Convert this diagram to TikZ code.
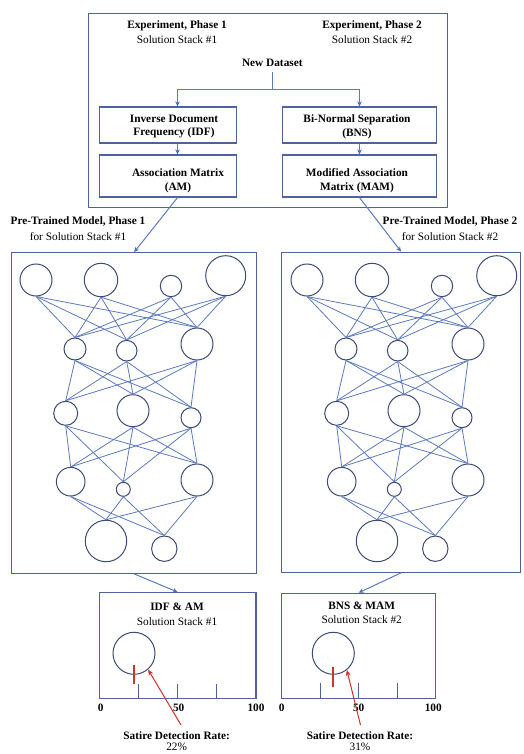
\documentclass[tikz,border=0pt]{standalone}
\usepackage{fontspec}
\setmainfont{Liberation Serif}
\usetikzlibrary{arrows.meta,fit}
\definecolor{boxc}{RGB}{78,98,158}
\definecolor{edgec}{RGB}{92,122,192}
\definecolor{circc}{RGB}{62,74,118}
\definecolor{arrc}{RGB}{70,108,196}
\definecolor{redc}{RGB}{205,52,40}
\newcommand\fsz{\fontsize{11.3}{13.3}\selectfont}
\begin{document}
\begin{tikzpicture}[x=1pt,y=-1pt,
  box/.style={draw=boxc, line width=1.2pt, rectangle, inner sep=0pt},
  neuron/.style={draw=circc, circle, line width=1pt, inner sep=0pt},
  link/.style={draw=edgec, line width=0.8pt},
  plain/.style={draw=edgec, line width=1pt},
  arr/.style={draw=edgec, line width=1pt, -{Stealth[length=5pt,width=4.5pt,color=arrc]}},
  redarr/.style={draw=redc, line width=1pt, -{Stealth[length=6pt,width=5pt]}},
  redtick/.style={draw=redc, line width=2pt},
  tickmark/.style={draw=boxc, line width=1pt},
  lbl/.style={font=\fsz, align=center, inner sep=0pt},
  blbl/.style={font=\fsz\bfseries, align=center, inner sep=0pt}]
\useasboundingbox (0,0) rectangle (524,754);
\fill[white] (0,0) rectangle (524,754);

% ---------- top box ----------
\node[box, fit={(88.3,13.3) (447.3,207.8)}] (top) {};
\node[blbl] (e1t) at (177,26) {Experiment, Phase 1};
\node[lbl]  (e1s) at (177,40) {Solution Stack \#1};
\node[blbl] (e2t) at (372,26) {Experiment, Phase 2};
\node[lbl]  (e2s) at (372,40) {Solution Stack \#2};
\node[blbl] (nd) at (272.3,63.3) {New Dataset};

\node[box, fit={(99.3,107) (236.7,143)}] (idf) {};
\node[box, fit={(99.3,155) (236.7,197)}] (am) {};
\node[box, fit={(282.7,107) (436.7,143)}] (bns) {};
\node[box, fit={(282.7,155) (436.7,197)}] (mam) {};
\node[blbl] (idft) at (174,126.7) {Inverse Document\\Frequency (IDF)};
\node[blbl] (amt)  at (178,180.7) {Association Matrix\\(AM)};
\node[blbl] (bnst) at (357,126.7) {Bi-Normal Separation\\(BNS)};
\node[blbl] (mamt) at (357,180.7) {Modified Association\\Matrix (MAM)};

\coordinate (sp) at (272.3,90);
\coordinate (colL) at (177.5,0);
\coordinate (colR) at (359.5,0);
\draw[plain, shorten <=5pt] (nd.south) -- (sp);
\draw[arr] (sp) -| (idf.north -| colL);
\draw[arr] (sp) -| (bns.north -| colR);
\draw[arr] (idf.south -| colL) -- (am.north -| colL);
\draw[arr] (bns.south -| colR) -- (mam.north -| colR);

% ---------- labels ----------
\node[blbl] (ptl)  at (78,221.5) {Pre-Trained Model, Phase 1};
\node[lbl]  (ptls) at (78,236.5) {for Solution Stack \#1};
\node[blbl] (ptr)  at (450,221.5) {Pre-Trained Model, Phase 2};
\node[lbl]  (ptrs) at (450,236.5) {for Solution Stack \#2};

% ---------- network boxes ----------
\node[box, fit={(11.7,252.7) (256.7,573.3)}] (lnet) {};
\node[box, fit={(281.7,252.2) (520.5,572.2)}] (rnet) {};
\draw[arr] (am.south -| colL) -- (lnet.north);
\draw[arr] (mam.south -| colR) -- (rnet.north);

\foreach \p/\dx in {L/0,R/271}{
  \begin{scope}[xshift=\dx pt]
  \foreach \n/\x/\y/\r in {a1/36/280/16, a2/101/280/16.7, a3/171/286/10.7, a4/225.7/275.7/20,
      b1/75/349/11, b2/126.7/350.7/10.3, b3/197/344/16,
      c1/65.7/413.3/12, c2/133/410.7/16, c3/191/417.7/10,
      d1/70.7/481.7/14.3, d2/123.3/489.3/7, d3/197/480/16,
      e1/106/541/20.7, e2/164.3/548.7/12.7}{
    \node[neuron, minimum size={2pt*\r}] (\p\n) at (\x,\y) {};
  }
  \end{scope}
}
\foreach \p in {L,R}{
  \foreach \u in {a1,a2,a3,a4}{\foreach \v in {b1,b2,b3}{\draw[link] (\p\u.south) -- (\p\v.north);}}
  \foreach \u in {b1,b2,b3}{\foreach \v in {c1,c2,c3}{\draw[link] (\p\u.south) -- (\p\v.north);}}
  \foreach \u in {c1,c2,c3}{\foreach \v in {d1,d2,d3}{\draw[link] (\p\u.south) -- (\p\v.north);}}
  \foreach \u in {d1,d2,d3}{\foreach \v in {e1,e2}{\draw[link] (\p\u.south) -- (\p\v.north);}}
}

% ---------- result boxes ----------
\node[box, fit={(99.3,592.7) (256,698.3)}] (lbox) {};
\node[box, fit={(281.7,593.3) (435.7,698.3)}] (rbox) {};
\draw[arr] (lnet.south) -- (lbox.north);
\draw[arr] (rnet.south) -- (rbox.north);

\node[blbl] (lbt) at (177,606.7) {IDF \& AM};
\node[lbl]  (lbs) at (177,621.7) {Solution Stack \#1};
\node[blbl] (rbt) at (361.7,606) {BNS \& MAM};
\node[lbl]  (rbs) at (361.7,620) {Solution Stack \#2};

\node[neuron, minimum size=42pt] (lc) at (134,653.3) {};
\node[neuron, minimum size=42pt] (rc) at (333.3,653.3) {};
\draw[redtick] (134,665) -- (134,684.3);
\draw[redtick] (333.3,666.7) -- (333.3,686.7);
\foreach \x in {138.5,177.7,216.8}{\draw[tickmark] (\x,684.3) -- (\x,698.3);}
\foreach \x in {320,358.7,397}{\draw[tickmark] (\x,682.7) -- (\x,698.3);}

\node[blbl] (l0)   at (100.7,707.5) {0};
\node[blbl] (l50)  at (178.7,707.5) {50};
\node[blbl] (l100) at (256,707.5) {100};
\node[blbl] (r0)   at (281.7,707.5) {0};
\node[blbl] (r50)  at (358.7,707.5) {50};
\node[blbl] (r100) at (433.3,707.5) {100};

\node[blbl] (lsat) at (176.7,735.5) {Satire Detection Rate:};
\node[lbl]  (lpct) at (176.7,747.3) {22\%};
\node[blbl] (rsat) at (360,735.5) {Satire Detection Rate:};
\node[lbl]  (rpct) at (360,747.3) {31\%};

\coordinate (la) at (181,725);
\coordinate (ra) at (360.5,725);
\draw[redarr] (la) -- (lc.-49);
\draw[redarr] (ra) -- (rc.-51);
\end{tikzpicture}
\end{document}
